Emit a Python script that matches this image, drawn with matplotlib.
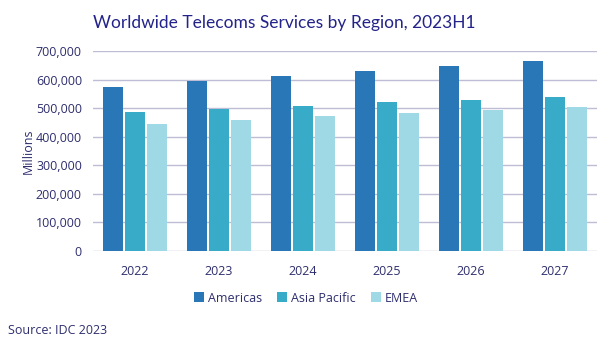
import numpy as np
import matplotlib
matplotlib.use("Agg")
import matplotlib.pyplot as plt
from matplotlib.ticker import FuncFormatter

plt.rcParams['font.family'] = ['Open Sans', 'DejaVu Sans']

years = ['2022', '2023', '2024', '2025', '2026', '2027']
americas = [575000, 595000, 613000, 630000, 648000, 665000]
asia_pacific = [487000, 498000, 508000, 522000, 528000, 540000]
emea = [444000, 458000, 473000, 484000, 493000, 505000]

series = [('Americas', americas, '#2a77b8'),
          ('Asia Pacific', asia_pacific, '#38abc8'),
          ('EMEA', emea, '#a0d9e6')]

text_col = '#2e2e6e'
fig = plt.figure(figsize=(6.12, 3.44), dpi=100)
ax = fig.add_axes([93/612, 1-251/344, 504/612, 200/344])

x = np.arange(len(years))
w = 20/84
for i, (name, vals, col) in enumerate(series):
    ax.bar(x + (i-1)*(w + 2/84), vals, width=w, color=col, label=name, zorder=3)

ax.set_xlim(-0.5, len(years)-0.5)
ax.set_ylim(0, 700000)
ax.set_yticks(np.arange(0, 700001, 100000))
ax.yaxis.set_major_formatter(FuncFormatter(lambda v, p: f'{int(v):,}'))
ax.set_xticks(x)
ax.set_xticklabels(years)
ax.grid(axis='y', color='#bdbdd6', linewidth=1, zorder=0)
for s in ax.spines.values():
    s.set_visible(False)
ax.tick_params(length=0, colors=text_col, labelsize=9, pad=8)
ax.tick_params(axis='x', pad=10)
ax.set_ylabel('Millions', color=text_col, fontsize=9, labelpad=1)

# title
fig.text(93/612, 1-28/344, 'Worldwide Telecoms Services by Region, 2023H1',
         color='#23238a', fontsize=12.5, family=['Lato', 'DejaVu Sans'])
fig.text(8/612, 1-330/344, 'Source: IDC 2023', color=text_col, fontsize=9, va='center')

fig.legend(loc='center', bbox_to_anchor=(0.5, 1-298/344), ncol=3, frameon=False,
           fontsize=9, handlelength=0.8, handleheight=0.8, handletextpad=0.3,
           columnspacing=1.2, labelcolor=text_col)

fig.savefig('out.png', dpi=100)
